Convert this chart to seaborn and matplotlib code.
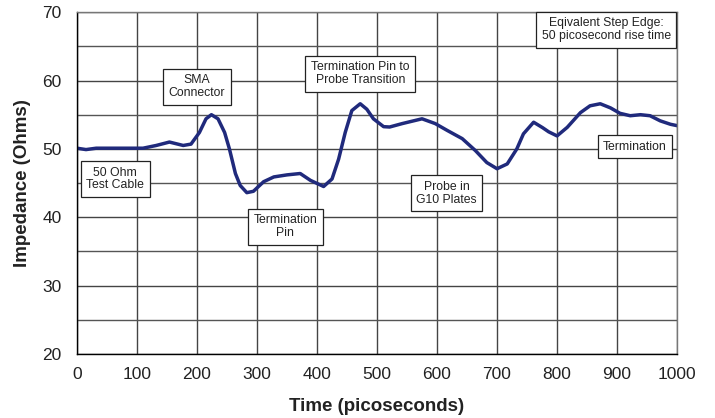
import matplotlib
matplotlib.use("Agg")
import matplotlib.pyplot as plt
from matplotlib.ticker import MultipleLocator
import seaborn as sns
import pandas as pd

time_ps = [0, 15, 32, 110, 132, 154, 177, 190, 204, 215, 224, 235, 246, 254, 264,
           272, 283, 294, 311, 328, 350, 372, 389, 411, 425, 436, 447, 458, 472,
           483, 494, 511, 521, 542, 575, 597, 617, 642, 664, 683, 700, 717, 733,
           744, 761, 776, 786, 800, 817, 839, 855, 872, 889, 905, 922, 939, 955,
           972, 989, 1000]
impedance = [50.1, 49.9, 50.1, 50.1, 50.5, 51.0, 50.5, 50.7, 52.4, 54.4, 55.0, 54.4,
             52.4, 50.0, 46.4, 44.65, 43.6, 43.8, 45.2, 45.9, 46.2, 46.4, 45.4, 44.5,
             45.6, 48.5, 52.4, 55.6, 56.6, 55.8, 54.4, 53.25, 53.2, 53.7, 54.4, 53.7,
             52.7, 51.5, 49.75, 48.0, 47.1, 47.8, 50.0, 52.2, 53.9, 53.1, 52.5, 51.9,
             53.15, 55.3, 56.3, 56.6, 56.0, 55.2, 54.85, 55.0, 54.85, 54.1, 53.6, 53.4]

note_texts = ["SMA\nConnector", "50 Ohm\nTest Cable", "Termination\nPin",
              "Termination Pin to\nProbe Transition", "Probe in\nG10 Plates",
              "Termination", "Eqivalent Step Edge:\n50 picosecond rise time"]
note_x = [200, 64, 347, 472, 616, 930, 882]
note_y = [59.1, 45.6, 38.6, 61.0, 43.5, 50.3, 67.4]

x_label = "Time (picoseconds)"
y_label = "Impedance (Ohms)"

sns.set_theme(style="white")
plt.rcParams['font.family'] = ['Liberation Sans', 'DejaVu Sans']

df = pd.DataFrame({"t": time_ps, "z": impedance})

fig = plt.figure(figsize=(7.15, 4.18), dpi=100)
ax = fig.add_axes([0.1077, 0.153, 0.8392, 0.818])

sns.lineplot(data=df, x="t", y="z", ax=ax, color="#202a7c", linewidth=2.5,
             solid_joinstyle="round", solid_capstyle="round")

ax.set_xlim(0, 1000)
ax.set_ylim(20, 70)
ax.xaxis.set_major_locator(MultipleLocator(100))
ax.yaxis.set_major_locator(MultipleLocator(10))
ax.yaxis.set_minor_locator(MultipleLocator(5))
ax.grid(True, which="major", color="#444444", linewidth=1.0)
ax.grid(True, which="minor", axis="y", color="#555555", linewidth=1.0)
ax.set_axisbelow(True)

for side in ["left", "bottom"]:
    ax.spines[side].set_color("black")
    ax.spines[side].set_linewidth(1.0)
for side in ["top", "right"]:
    ax.spines[side].set_color("#777777")
    ax.spines[side].set_linewidth(1.0)

ax.tick_params(axis="both", which="major", direction="out", length=4, width=1,
               color="black", labelsize=12.5, labelcolor="#222222")
ax.tick_params(axis="y", which="major", pad=7)
ax.tick_params(axis="x", which="major", pad=5.5)
ax.tick_params(axis="both", which="minor", length=0)

ax.set_xlabel(x_label, fontsize=13.5, fontweight="bold", labelpad=11, color="#222222")
ax.set_ylabel(y_label, fontsize=13.5, fontweight="bold", labelpad=8, color="#222222")

for txt, xx, yy in zip(note_texts, note_x, note_y):
    ax.text(xx, yy, txt, ha="center", va="center", fontsize=8.8,
            linespacing=1.1, zorder=5, color="#222222",
            bbox=dict(boxstyle="square,pad=0.45", facecolor="white",
                      edgecolor="#222222", linewidth=0.9))

fig.savefig("out.png", dpi=100)
